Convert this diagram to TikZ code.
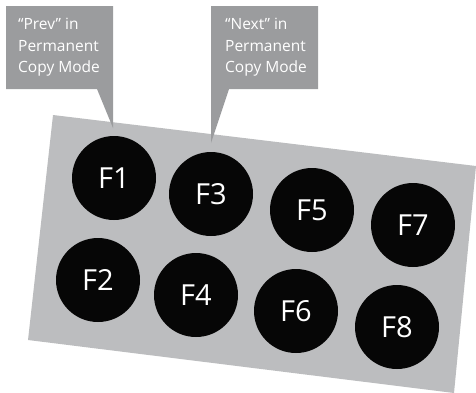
\documentclass[tikz,border=0pt]{standalone}
\usepackage{fontspec}
\setmainfont{Open Sans}
\definecolor{panelgray}{HTML}{BCBDBF}
\definecolor{calloutgray}{HTML}{9B9C9E}
\definecolor{keyblack}{HTML}{060606}
\begin{document}
\begin{tikzpicture}[x=1pt,y=-1pt,
  keycap/.style={circle, fill=keyblack, minimum size=84pt, inner sep=0pt,
    text=white, font=\fontsize{29}{30}\selectfont},
  callout/.style={fill=calloutgray, draw=none},
  callouttext/.style={anchor=north west, align=left, inner sep=0pt, text=white,
    font=\fontsize{15.5}{21.5}\selectfont}]
\useasboundingbox (0,0) rectangle (476,392);

% tilted key panel
\fill[panelgray] (53,115) -- (476,166) -- (454,393) -- (28,340) -- cycle;

% function keys
\node[keycap] (f1) at (114,178) {F1};
\node[keycap] (f2) at (98,280) {F2};
\node[keycap] (f3) at (211,194) {F3};
\node[keycap] (f4) at (196,295) {F4};
\node[keycap] (f5) at (312,210) {F5};
\node[keycap] (f6) at (296,311) {F6};
\node[keycap] (f7) at (413,225) {F7};
\node[keycap] (f8) at (397,327) {F8};

% callout bubbles pointing at F1 and F3
\fill[callout] (6,6) -- (113,6) -- (113,128) -- (97,89) -- (6,89) -- cycle;
\fill[callout] (211,6) -- (318,6) -- (318,89) -- (229,89) -- (211,143) -- cycle;

\node[callouttext] (prev) at (18,18) {“Prev” in\\Permanent\\Copy Mode};
\node[callouttext] (next) at (225,18) {“Next” in\\Permanent\\Copy Mode};
\end{tikzpicture}
\end{document}
